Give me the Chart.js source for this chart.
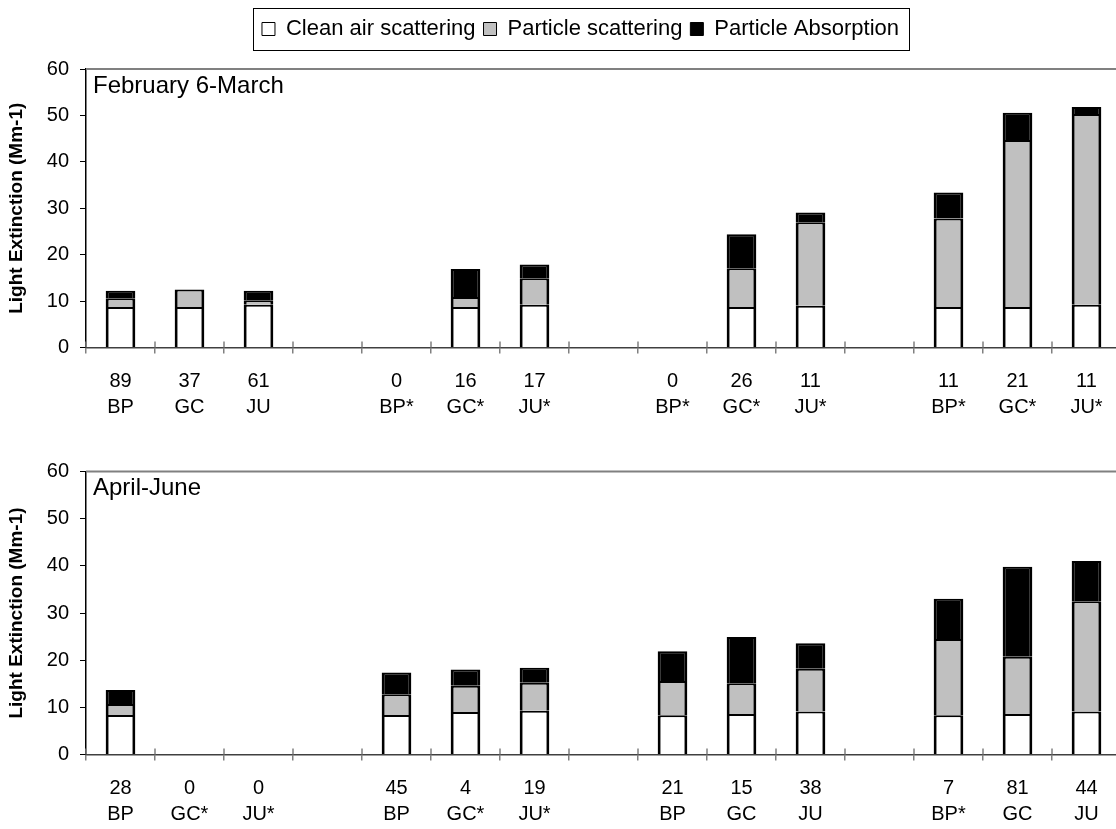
<!DOCTYPE html>
<html>
<head>
<meta charset="utf-8">
<title>Light Extinction</title>
<script src="https://cdn.jsdelivr.net/npm/chart.js@4.4.1/dist/chart.umd.min.js"></script>
<style>
  html, body { margin: 0; padding: 0; background: #fff; overflow: hidden; }
  #wrap { position: relative; width: 1116px; height: 829px; overflow: hidden; }
  #wrap canvas { position: absolute; left: 0; }
  #topChart { top: 0; }
  #bottomChart { top: 420px; }
</style>
</head>
<body>
<div id="wrap">
  <canvas id="topChart" width="1140" height="420"></canvas>
  <canvas id="bottomChart" width="1140" height="409"></canvas>
</div>
<script>
// series names (shared by both panels)
const legendLabels = ['Clean air scattering', 'Particle scattering', 'Particle Absorption'];
const panelTitles = ['February 6-March', 'April-June'];
const yTitle = 'Light Extinction (Mm-1)';
const yTicks = [0, 10, 20, 30, 40, 50, 60];

// February 6-March: sample count + site under each bar, blanks are the gaps between groups
const febCounts = ['89', '37', '61', '', '0', '16', '17', '', '0', '26', '11', '', '11', '21', '11'];
const febSites = ['BP', 'GC', 'JU', '', 'BP*', 'GC*', 'JU*', '', 'BP*', 'GC*', 'JU*', '', 'BP*', 'GC*', 'JU*'];
const febClean = [8.7, 8.7, 9.2, null, null, 8.7, 9.2, null, null, 8.7, 9.0, null, 8.7, 8.7, 9.2];
const febScatter = [1.9, 3.8, 1.0, null, null, 2.2, 5.7, null, null, 8.4, 18.0, null, 19.1, 36.0, 41.1];
const febAbsorb = [1.6, 0, 2.0, null, null, 6.0, 3.0, null, null, 7.3, 2.1, null, 5.6, 5.9, 1.5];

// April-June
const aprCounts = ['28', '0', '0', '', '45', '4', '19', '', '21', '15', '38', '', '7', '81', '44'];
const aprSites = ['BP', 'GC*', 'JU*', '', 'BP', 'GC*', 'JU*', '', 'BP', 'GC', 'JU', '', 'BP*', 'GC', 'JU'];
const aprClean = [8.4, null, null, null, 8.4, 9.0, 9.3, null, 8.3, 8.6, 9.1, null, 8.3, 8.6, 9.1];
const aprScatter = [2.3, null, null, null, 4.4, 5.6, 5.9, null, 7.3, 6.5, 9.1, null, 16.2, 12.1, 23.4];
const aprAbsorb = [3.0, null, null, null, 4.6, 3.4, 3.2, null, 6.3, 9.8, 5.4, null, 8.5, 19.1, 8.5];

const fonte = '"Liberation Sans", Arial, Helvetica, sans-serif';
const cores = ['#ffffff', '#c0c0c0', '#000000'];

// two-line category labels: count on top, site below
function montaLabels(counts, sites) {
  return counts.map((c, i) => [c, sites[i]]);
}

function montaDatasets(clean, scatter, absorb) {
  return [clean, scatter, absorb].map((serie, i) => ({
    label: legendLabels[i],
    data: serie,
    backgroundColor: cores[i],
    borderColor: '#000000',
    borderWidth: { top: 2, right: 3, bottom: 2, left: 3 },
    borderSkipped: 'start', // the segment below already draws the shared edge
    barPercentage: 0.43,
    categoryPercentage: 1
  }));
}

// panel title inside the plot, grey top frame line and the upper half of the x tick marks
function panelPlugin(titulo) {
  return {
    id: 'panelDecor',
    afterDraw(chart) {
      const ctx = chart.ctx;
      const area = chart.chartArea;
      const x = chart.scales.x;
      ctx.save();
      ctx.strokeStyle = '#808080';
      ctx.lineWidth = 2;
      ctx.beginPath();
      ctx.moveTo(area.left, area.top);
      ctx.lineTo(area.right, area.top);
      ctx.stroke();

      const meio = (x.getPixelForValue(1) - x.getPixelForValue(0)) / 2;
      ctx.lineWidth = 1.5;
      ctx.beginPath();
      for (let i = 0; i <= chart.data.labels.length; i++) {
        const px = x.getPixelForValue(i) - meio;
        ctx.moveTo(px, area.bottom - 6);
        ctx.lineTo(px, area.bottom);
      }
      ctx.stroke();

      ctx.fillStyle = '#000';
      ctx.font = '24px ' + fonte;
      ctx.textBaseline = 'middle';
      ctx.textAlign = 'left';
      ctx.fillText(titulo, area.left + 7, area.top + 17);
      ctx.restore();
    }
  };
}

// legend sits a bit higher and right, with a thin box around it
const legendBox = {
  id: 'legendBox',
  afterLayout(chart) {
    const lg = chart.legend;
    lg.top -= 19; lg.bottom -= 19;
    lg.left += 20; lg.right += 20;
  },
  afterDraw(chart) {
    const boxes = chart.legend.legendHitBoxes;
    if (!boxes || !boxes.length) return;
    const first = boxes[0], last = boxes[boxes.length - 1];
    const ctx = chart.ctx;
    ctx.save();
    ctx.strokeStyle = '#000';
    ctx.lineWidth = 1;
    const l = Math.round(first.left - 9) + 0.5;
    const r = Math.round(last.left + last.width + 10) + 0.5;
    const t = Math.round(first.top - 10) + 0.5;
    const b = Math.round(first.top + first.height + 10) + 0.5;
    ctx.strokeRect(l, t, r - l, b - t);
    ctx.restore();
  }
};

function montaOpcoes(mostraLegenda, padding) {
  return {
    responsive: false,
    animation: false,
    layout: { padding: padding },
    plugins: {
      legend: {
        display: mostraLegenda,
        position: 'top',
        labels: {
          color: '#000',
          font: { family: fonte, size: 22 },
          boxWidth: 13,
          boxHeight: 13,
          padding: 8,
          generateLabels: function (chart) {
            return Chart.defaults.plugins.legend.labels.generateLabels(chart).map(item => {
              item.lineWidth = 1;
              return item;
            });
          }
        }
      },
      tooltip: { enabled: false }
    },
    scales: {
      x: {
        stacked: true,
        grid: { display: true, drawOnChartArea: false, drawTicks: true, tickLength: 6, color: '#808080', lineWidth: 1.5 },
        border: { display: true, color: '#404040', width: 1.5 },
        ticks: {
          color: '#000',
          font: { family: fonte, size: 20, lineHeight: '26px' },
          padding: 14.5,
          maxRotation: 0,
          autoSkip: false
        },
        afterFit: function (axis) { axis.height = 72.5; }
      },
      y: {
        stacked: true,
        min: yTicks[0],
        max: yTicks[yTicks.length - 1],
        grid: { display: true, drawOnChartArea: false, drawTicks: true, tickLength: 6, color: '#000' },
        border: { display: true, color: '#000', width: 1.5 },
        ticks: {
          stepSize: yTicks[1] - yTicks[0],
          color: '#000',
          font: { family: fonte, size: 20 },
          padding: 11
        },
        title: {
          display: true,
          text: yTitle,
          color: '#000',
          font: { family: fonte, size: 19, weight: 'bold' },
          padding: { top: 5, bottom: 0 }
        },
        afterFit: function (axis) { axis.width = 86; }
      }
    }
  };
}

const chartTop = new Chart(document.getElementById('topChart'), {
  type: 'bar',
  data: {
    labels: montaLabels(febCounts, febSites),
    datasets: montaDatasets(febClean, febScatter, febAbsorb)
  },
  options: montaOpcoes(true, { top: 29, right: 19, bottom: 0, left: 0 }),
  plugins: [panelPlugin(panelTitles[0]), legendBox]
});

const chartBottom = new Chart(document.getElementById('bottomChart'), {
  type: 'bar',
  data: {
    labels: montaLabels(aprCounts, aprSites),
    datasets: montaDatasets(aprClean, aprScatter, aprAbsorb)
  },
  options: montaOpcoes(false, { top: 51.5, right: 19, bottom: 2, left: 0 }),
  plugins: [panelPlugin(panelTitles[1])]
});
</script>
</body>
</html>
